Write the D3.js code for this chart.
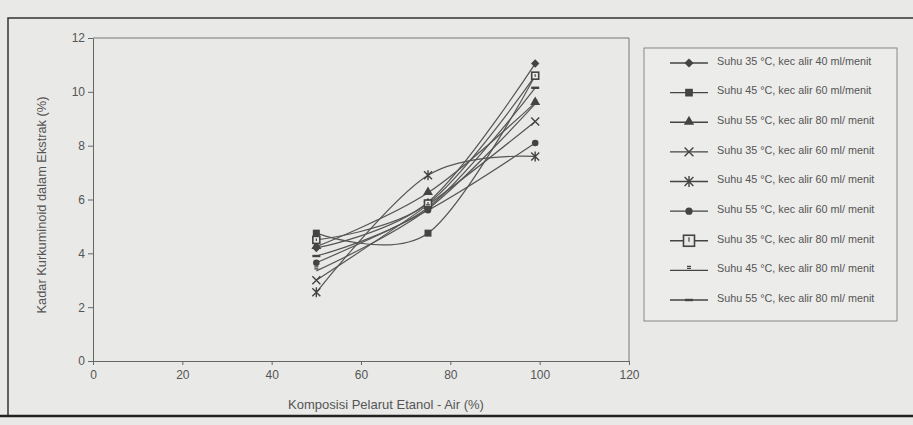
<!DOCTYPE html>
<html lang="id">
<head>
<meta charset="utf-8">
<title>Kadar Kurkuminoid</title>
<script src="https://cdnjs.cloudflare.com/ajax/libs/d3/7.8.5/d3.min.js"></script>
<style>
  body { margin: 0; background: #e9e9e7; }
  svg { display: block; }
  .axis text { font-family: "Liberation Sans", Arial, sans-serif; font-size: 12px; fill: #555; }
  .axis path, .axis line { stroke: #666; stroke-width: 1; }
  .lbl { font-family: "Liberation Sans", Arial, sans-serif; fill: #555; }
</style>
</head>
<body>
<script>
// komposisi etanol (%)
var xValues = [50, 75, 99];
var xTicks = [0, 20, 40, 60, 80, 100, 120];
var yTicks = [0, 2, 4, 6, 8, 10, 12];

var seriesNames = [
  "Suhu 35 \u00b0C, kec alir 40 ml/menit",
  "Suhu 45 \u00b0C, kec alir 60 ml/menit",
  "Suhu 55 \u00b0C, kec alir 80 ml/ menit",
  "Suhu 35 \u00b0C, kec alir 60 ml/ menit",
  "Suhu 45 \u00b0C, kec alir 60 ml/ menit",
  "Suhu 55 \u00b0C, kec alir 60 ml/ menit",
  "Suhu 35 \u00b0C, kec alir 80 ml/ menit",
  "Suhu 45 \u00b0C, kec alir 80 ml/ menit",
  "Suhu 55 \u00b0C, kec alir 80 ml/ menit"
];
var seriesValues = [
  [4.2, 5.9, 11.05],
  [4.75, 4.75, 10.6],
  [4.25, 6.25, 9.6],
  [3.0, 5.8, 8.9],
  [2.55, 6.9, 7.6],
  [3.65, 5.6, 8.1],
  [4.5, 5.85, 10.6],
  [3.35, 5.65, 9.55],
  [3.9, 5.7, 10.15]
];
var markerTypes = ["diamond", "square", "triangle", "x", "asterisk", "circle", "openSquare", "smallZ", "dash"];

var W = 913, H = 425;
var ink = "#444";

var svg = d3.select("body").append("svg").attr("width", W).attr("height", H);

// outer frame of the figure
svg.append("rect").attr("x", 8).attr("y", 18).attr("width", 920).attr("height", 398)
  .attr("fill", "none").attr("stroke", "#333").attr("stroke-width", 1.5);
svg.append("line").attr("x1", 0).attr("x2", W).attr("y1", 416).attr("y2", 416)
  .attr("stroke", "#222").attr("stroke-width", 2.5);

var x = d3.scaleLinear().domain([0, 120]).range([93, 629]);
var y = d3.scaleLinear().domain([0, 12]).range([361, 38]);

// plot box (top + right)
svg.append("path")
  .attr("d", "M" + x(0) + "," + y(12) + "H" + x(120) + "V" + y(0))
  .attr("fill", "none").attr("stroke", "#777").attr("stroke-width", 1);

svg.append("g").attr("class", "axis")
  .attr("transform", "translate(0," + y(0) + ")")
  .call(d3.axisBottom(x).tickValues(xTicks).tickSize(4).tickPadding(5).tickSizeOuter(0));

svg.append("g").attr("class", "axis")
  .attr("transform", "translate(" + x(0) + ",0)")
  .call(d3.axisLeft(y).tickValues(yTicks).tickSize(5).tickPadding(3).tickSizeOuter(0));

svg.append("text").attr("class", "lbl")
  .attr("x", 386).attr("y", 409).attr("text-anchor", "middle").attr("font-size", 13)
  .text("Komposisi Pelarut Etanol - Air (%)");

svg.append("text").attr("class", "lbl")
  .attr("transform", "translate(46,205) rotate(-90)")
  .attr("text-anchor", "middle").attr("font-size", 12.8)
  .text("Kadar Kurkuminoid dalam Ekstrak (%)");

function drawMarker(g, type, cx, cy, big) {
  var s = big ? 1.1 : 1;
  if (type == "diamond") {
    var d = 4.2 * s;
    g.append("path")
      .attr("d", "M" + cx + "," + (cy - d) + "L" + (cx + d) + "," + cy + "L" + cx + "," + (cy + d) + "L" + (cx - d) + "," + cy + "Z")
      .attr("fill", ink);
  } else if (type == "square") {
    g.append("rect").attr("x", cx - 3.5 * s).attr("y", cy - 3.5 * s)
      .attr("width", 7 * s).attr("height", 7 * s).attr("fill", ink);
  } else if (type == "triangle") {
    g.append("path").attr("d", d3.symbol(d3.symbolTriangle, 42 * s)())
      .attr("transform", "translate(" + cx + "," + (cy - 0.5) + ")").attr("fill", ink);
  } else if (type == "x" || type == "asterisk") {
    var r = 4 * s;
    g.append("path")
      .attr("d", "M" + (cx - r) + "," + (cy - r) + "L" + (cx + r) + "," + (cy + r) +
        "M" + (cx - r) + "," + (cy + r) + "L" + (cx + r) + "," + (cy - r) +
        (type == "asterisk" ? "M" + cx + "," + (cy - r - 1) + "V" + (cy + r + 1) : ""))
      .attr("stroke", ink).attr("stroke-width", 1.4).attr("fill", "none");
  } else if (type == "circle") {
    g.append("circle").attr("cx", cx).attr("cy", cy).attr("r", 3.3 * s).attr("fill", ink);
  } else if (type == "openSquare") {
    var h = big ? 5.5 : 3.5;
    g.append("rect").attr("x", cx - h).attr("y", cy - h)
      .attr("width", 2 * h).attr("height", 2 * h)
      .attr("fill", "#e9e9e7").attr("stroke", ink).attr("stroke-width", 1.6);
    g.append("line").attr("x1", cx).attr("x2", cx).attr("y1", cy - h + 2).attr("y2", cy + 1)
      .attr("stroke", ink).attr("stroke-width", 1.2);
  } else if (type == "smallZ") {
    g.append("path")
      .attr("d", "M" + (cx - 2) + "," + (cy - 4) + "H" + (cx + 2) +
        "M" + (cx - 2) + "," + (cy - 2) + "H" + (cx + 2))
      .attr("stroke", ink).attr("stroke-width", 1.2);
  } else if (type == "dash") {
    g.append("line").attr("x1", cx - 4).attr("x2", cx + 4).attr("y1", cy).attr("y2", cy)
      .attr("stroke", ink).attr("stroke-width", 2.4);
  }
}

var line = d3.line()
  .x(function(d, i) { return x(xValues[i]); })
  .y(function(d) { return y(d); })
  .curve(d3.curveCardinal.tension(0));

var plot = svg.append("g");
seriesValues.forEach(function(vals, k) {
  plot.append("path").attr("d", line(vals))
    .attr("fill", "none").attr("stroke", "#555").attr("stroke-width", 1.2);
});
seriesValues.forEach(function(vals, k) {
  vals.forEach(function(v, i) {
    drawMarker(plot, markerTypes[k], x(xValues[i]), y(v), false);
  });
});

// legend
var legend = svg.append("g");
legend.append("rect").attr("x", 644).attr("y", 48).attr("width", 253).attr("height", 273)
  .attr("fill", "#ececea").attr("stroke", "#888").attr("stroke-width", 1);

var ly = d3.scaleLinear().domain([0, 8]).range([63, 300]);
seriesNames.forEach(function(name, k) {
  var yy = ly(k);
  legend.append("line").attr("x1", 670).attr("x2", 708).attr("y1", yy).attr("y2", yy)
    .attr("stroke", ink).attr("stroke-width", 1.3);
  drawMarker(legend, markerTypes[k], 689, yy, true);
  legend.append("text").attr("class", "lbl")
    .attr("x", 717).attr("y", yy - 1).attr("font-size", 10.8)
    .attr("dominant-baseline", "middle")
    .text(name);
});
</script>
</body>
</html>
